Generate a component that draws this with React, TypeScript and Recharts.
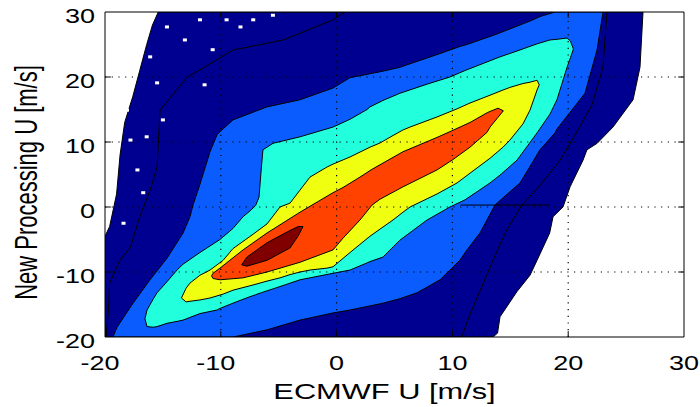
import React from 'react'
import { ComposedChart, Area, Line, Scatter, XAxis, YAxis, ReferenceLine, ReferenceArea } from 'recharts'

const FONT = "'Liberation Sans', Arial, Helvetica, sans-serif"

const axisTicks = [-20, -10, 0, 10, 20, 30]
const gridTicks = [-10, 0, 10, 20]

const xTitle = 'ECMWF U [m/s]'
const yTitle = 'New Processing U [m/s]'

// contour bands, outermost first: x, lower edge, upper edge (m/s)
const navyX = [-20, -19.6, -19.0, -18.7, -18.3, -17.6, -17.0, -16.4, -15.9, -15.4, 13.51, 13.9, 14.11, 15.58, 16.7, 17.31, 18.4, 18.69, 19.55, 20.16, 21.28, 21.62, 22.5, 23.87, 25.6, 26.2, 26.46]
const navyLo = [-20, -20, -20, -20, -20, -20, -20, -20, -20, -20, -20, -19.4, -16.9, -13, -10.5, -8.2, -4, -1.5, 0, 3.1, 7.2, 8.8, 9.8, 12.3, 16.5, 21.5, 30]
const navyHi = [-4.5, -3, 2, 8, 13, 17, 21, 25, 28, 30, 30, 30, 30, 30, 30, 30, 30, 30, 30, 30, 30, 30, 30, 30, 30, 30, 30]

const blueX = [-19.31, -18.96, -17.58, -16.11, -14.65, -13.26, -12.66, -12.4, -11.8, -10.93, -10.3, -8.95, -6.01, -3.16, -0.31, 1.16, 4.01, 5.47, 6.94, 8.93, 9.79, 10.66, 11.26, 12.38, 13.68, 14.11, 15.84, 16.96, 17.56, 18.86, 19.03, 21.45, 22.49, 23.01]
const blueLo = [-20, -20, -20, -20, -20, -20, -20, -20, -20, -20, -20, -20, -18.9, -17.4, -16.3, -15.85, -14.8, -14.1, -13.2, -11.2, -9.7, -8.15, -6.6, -4.0, 0.3, 1.0, 3.7, 7.0, 8.8, 11.4, 12.0, 17.5, 24.15, 30]
const blueHi = [-20, -18.5, -14.8, -11.2, -7.9, -4.0, -1.5, 0.3, 3.5, 8.5, 11.2, 13.4, 15.4, 16.5, 18.3, 19.9, 20.9, 21.5, 22.4, 23.6, 24.15, 24.7, 25.0, 25.7, 26.5, 26.8, 28.0, 28.8, 29.3, 30, 30, 30, 30, 30]

const cyanX = [-16.55, -16.37, -15.85, -15.51, -14.65, -13.78, -13.26, -11.8, -10.33, -10.07, -8.95, -8.08, -7.48, -7.0, -6.7, -6.5, -6.36, -5.49, -3.16, -0.31, 1.16, 2.63, 2.88, 4.01, 5.47, 7.81, 9.79, 11.09, 13.25, 14.11, 15.58, 17.31, 18.43, 19.03, 19.9, 20.2, 20.45]
const cyanLo = [-17.2, -18.4, -18.5, -18.4, -17.9, -17.6, -17.4, -16.4, -15.85, -15.6, -14.8, -14.2, -13.8, -13.5, -13.3, -13.2, -13.1, -12.6, -11.2, -10.2, -9.7, -8.6, -8.4, -7.7, -5.1, -2.0, 0, 1.1, 3.7, 4.9, 7.2, 11.4, 14.3, 16.5, 21.5, 23.0, 24.3]
const cyanHi = [-17.2, -15.85, -14.2, -13.2, -11.5, -9.7, -8.8, -7.0, -5.3, -5.0, -3.3, -1.5, -0.6, 0.2, 1.5, 6.0, 8.8, 9.8, 10.8, 12.3, 13.5, 15.0, 15.4, 16.4, 17.5, 18.9, 20.0, 21.0, 22.5, 23.1, 24.0, 25.1, 25.7, 25.8, 26.0, 25.5, 24.3]

const yellowX = [-13.4, -13.0, -12.66, -11.8, -10.93, -9.8, -8.95, -7.22, -6.01, -4.89, -4.02, -3.16, -2.3, -0.83, -0.31, 1.16, 2.88, 3.75, 4.87, 5.73, 6.34, 8.67, 10.4, 11.52, 13.25, 14.37, 14.97, 16.1, 16.7, 17.31, 17.5]
const yellowLo = [-14.0, -14.6, -14.5, -14.3, -14.0, -13.4, -12.8, -12.0, -11.4, -10.9, -10.4, -10.0, -9.7, -9.4, -9.2, -7.0, -4.5, -3.4, -2.0, -0.8, 0, 2.0, 3.7, 5.2, 7.5, 9.2, 10.3, 12.8, 14.9, 18.0, 18.8]
const yellowHi = [-14.0, -12.5, -11.7, -10.5, -9.7, -8.2, -6.4, -4.2, -2.6, 0, 0.6, 2.6, 4.6, 6.15, 6.6, 7.7, 9.2, 9.85, 11.0, 11.85, 12.3, 13.85, 15.1, 16.0, 17.2, 18.0, 18.4, 19.0, 19.2, 19.5, 18.8]

const orangeX = [-10.8, -10.67, -10.07, -8.08, -6.01, -3.16, -0.31, 0.55, 2.02, 3.06, 3.75, 5.73, 8.67, 10.05, 11.52, 13.0, 13.25, 13.94, 14.4]
const orangeLo = [-10.6, -11.0, -11.2, -10.9, -10.0, -8.5, -6.6, -4.8, -2.0, 0.3, 1.2, 3.1, 5.7, 7.3, 9.2, 11.5, 12.3, 13.8, 14.8]
const orangeHi = [-10.6, -10.2, -9.4, -6.6, -4.0, -0.8, 2.2, 3.0, 4.6, 5.8, 6.5, 8.5, 10.7, 11.8, 13.0, 14.5, 14.7, 15.2, 14.8]

const redX = [-8.2, -7.74, -6.01, -4.02, -3.3, -2.9]
const redLo = [-8.9, -9.1, -8.2, -6.3, -4.4, -3.0]
const redHi = [-8.9, -7.7, -5.5, -3.6, -3.0, -3.0]

// lowest (navy on navy) contour lines
const innerLeftX = [0.7, -0.3, -4.6, -8.95, -11.8, -12.9, -15.25, -15.5, -16.1, -17.0, -17.8, -18.7, -19.6, -19.7, -19.9]
const innerLeftY = [30, 28.8, 25.7, 24.15, 21.1, 20, 14.9, 6.15, 2.6, -1.5, -6.15, -8.15, -11.7, -15.85, -20]
const innerRightX = [23.35, 23.0, 22.05, 20.6, 19.3, 17.6, 16.0, 14.7, 13.7, 12.6, 11.5, 10.8]
const innerRightY = [30, 21.5, 15.7, 11.1, 7.2, 3.4, 0.3, -3.5, -7.4, -12.0, -16.6, -20]
const zeroLineX = [10.7, 18.4]
const zeroLineY = [0.3, 0.3]

// empty bins scattered in the sparse upper-left corner
const holeX = [-15.5, -15.0, -14.65, -11.8, -9.5, -8.3, -7.2, -5.5, -10.7, -16.4, -17.2, -16.7, -18.4, -18.1, -16.1, -13.1, -11.4, -18.7, -17.8]
const holeY = [19.1, 13.4, 27.7, 28.8, 28.8, 27.7, 28.8, 29.5, 24.2, 10.8, 5.7, 2.2, -2.5, 14.9, 23.1, 25.7, 18.8, 16.5, 10.3]

const levels = [
  { key: 'navy', color: '#000090', xs: navyX, lo: navyLo, hi: navyHi },
  { key: 'blue', color: '#0a5cff', xs: blueX, lo: blueLo, hi: blueHi },
  { key: 'cyan', color: '#22ffdd', xs: cyanX, lo: cyanLo, hi: cyanHi },
  { key: 'yellow', color: '#f0ff10', xs: yellowX, lo: yellowLo, hi: yellowHi },
  { key: 'orange', color: '#ff4200', xs: orangeX, lo: orangeLo, hi: orangeHi },
  { key: 'darkred', color: '#800000', xs: redX, lo: redLo, hi: redHi },
]

const innerLines = [
  { key: 'inL', xs: innerLeftX, ys: innerLeftY },
  { key: 'inR', xs: innerRightX, ys: innerRightY },
  { key: 'zero', xs: zeroLineX, ys: zeroLineY },
]

function bandRows(xs: number[], lo: number[], hi: number[]) {
  return xs.map((x, i) => ({ x, band: [lo[i], hi[i]] }))
}

function pointRows(xs: number[], ys: number[]) {
  return xs.map((x, i) => ({ x, y: ys[i] }))
}

function Hole(props: any) {
  return <rect x={props.cx - 2} y={props.cy - 1.5} width={4} height={3} fill="#fff" />
}

function XTick(props: any) {
  const { x, y, payload } = props
  const shift = payload.value < 0 ? -5 : 0
  return (
    <g transform={`translate(${x + shift},${y + 33}) scale(1.35,1)`}>
      <text textAnchor="middle" fontSize={20} fontFamily={FONT} fill="#000">{payload.value}</text>
    </g>
  )
}

function YTick(props: any) {
  const { x, y, payload } = props
  return (
    <g transform={`translate(${x - 10},${y + 11}) scale(1.35,1)`}>
      <text textAnchor="end" fontSize={20} fontFamily={FONT} fill="#000">{payload.value}</text>
    </g>
  )
}

function XTitle(props: any) {
  const vb = props.viewBox || { x: 105, y: 337, width: 579, height: 70 }
  return (
    <g transform={`translate(${vb.x + vb.width / 2 - 10},${vb.y + 62}) scale(1.4,1)`}>
      <text textAnchor="middle" fontSize={22} fontFamily={FONT} fill="#000">{xTitle}</text>
    </g>
  )
}

function YTitle(props: any) {
  const vb = props.viewBox || { x: 0, y: 12, width: 105, height: 325 }
  return (
    <g transform={`translate(${vb.x + 37},${vb.y + vb.height / 2 + 8}) scale(1.4,1) rotate(-90)`}>
      <text textAnchor="middle" fontSize={22} fontFamily={FONT} fill="#000">{yTitle}</text>
    </g>
  )
}

export default function App() {
  const tx = 0.5
  const ty = 0.9
  return (
    <div style={{ position: 'absolute', left: 0, top: 0, width: 700, height: 407, background: '#fff' }}>
      <ComposedChart width={700} height={407} margin={{ top: 12, right: 16, bottom: 0, left: 0 }}>
        <XAxis
          type="number"
          dataKey="x"
          domain={[-20, 30]}
          ticks={axisTicks}
          interval={0}
          allowDataOverflow
          axisLine={false}
          tickLine={false}
          tickSize={0}
          tickMargin={0}
          height={70}
          tick={XTick}
          label={{ content: XTitle }}
        />
        <YAxis
          type="number"
          domain={[-20, 30]}
          ticks={axisTicks}
          interval={0}
          allowDataOverflow
          axisLine={false}
          tickLine={false}
          tickSize={0}
          tickMargin={0}
          width={105}
          tick={YTick}
          label={{ content: YTitle }}
        />
        {levels.map(l => (
          <Area
            key={l.key}
            data={bandRows(l.xs, l.lo, l.hi)}
            dataKey="band"
            type="linear"
            fill={l.color}
            fillOpacity={1}
            stroke="#000"
            strokeWidth={1}
            dot={false}
            activeDot={false}
            connectNulls
            isAnimationActive={false}
          />
        ))}
        {innerLines.map(l => (
          <Line
            key={l.key}
            data={pointRows(l.xs, l.ys)}
            dataKey="y"
            type="linear"
            stroke="#000"
            strokeWidth={1}
            dot={false}
            activeDot={false}
            isAnimationActive={false}
          />
        ))}
        <Scatter data={pointRows(holeX, holeY)} dataKey="y" shape={Hole} isAnimationActive={false} />
        {gridTicks.map(v => (
          <ReferenceLine key={'gx' + v} x={v} stroke="#000" strokeWidth={1.2} strokeDasharray="1.2 5.5" />
        ))}
        {gridTicks.map(v => (
          <ReferenceLine key={'gy' + v} y={v} stroke="#000" strokeWidth={1.2} strokeDasharray="1.2 5.5" />
        ))}
        {gridTicks.map(v => (
          <ReferenceLine key={'tb' + v} segment={[{ x: v, y: -20 }, { x: v, y: -20 + ty }]} stroke="#000" />
        ))}
        {gridTicks.map(v => (
          <ReferenceLine key={'tt' + v} segment={[{ x: v, y: 30 }, { x: v, y: 30 - ty }]} stroke="#000" />
        ))}
        {gridTicks.map(v => (
          <ReferenceLine key={'tl' + v} segment={[{ x: -20, y: v }, { x: -20 + tx, y: v }]} stroke="#000" />
        ))}
        {gridTicks.map(v => (
          <ReferenceLine key={'tr' + v} segment={[{ x: 30, y: v }, { x: 30 - tx, y: v }]} stroke="#000" />
        ))}
        <ReferenceArea x1={-20} x2={30} y1={-20} y2={30} fill="none" fillOpacity={0} stroke="#000" strokeWidth={1} />
      </ComposedChart>
    </div>
  )
}
